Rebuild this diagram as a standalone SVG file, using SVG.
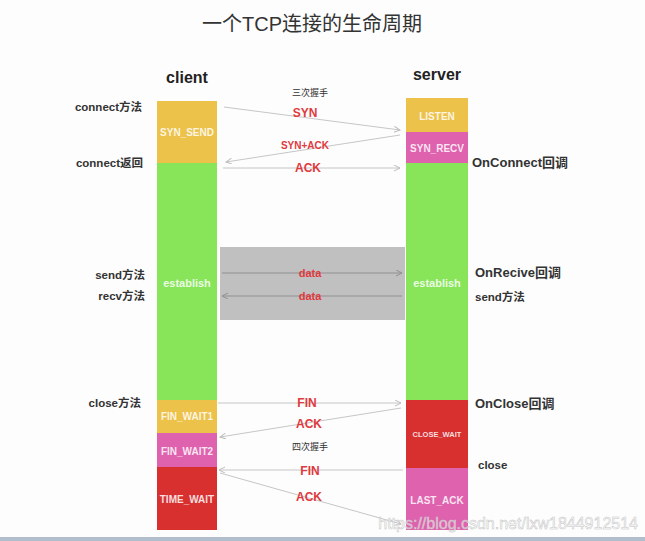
<svg xmlns="http://www.w3.org/2000/svg" width="645" height="541" viewBox="0 0 645 541">
<style>
.title{font-family:"Liberation Sans","Noto Sans CJK SC",sans-serif;font-size:20px;fill:#333;}
.hdr{font-family:"Liberation Sans",sans-serif;font-size:16px;font-weight:bold;fill:#222;}
.side{font-family:"Liberation Sans","Noto Sans CJK SC",sans-serif;font-size:11.5px;font-weight:bold;fill:#333;}
.rside{font-family:"Liberation Sans","Noto Sans CJK SC",sans-serif;font-size:13px;font-weight:bold;fill:#333;}
.st{font-family:"Liberation Sans",sans-serif;font-size:10px;font-weight:bold;fill:#fff;fill-opacity:0.85;text-anchor:middle;}
.est{font-size:11px;}
.lbl{font-family:"Liberation Sans",sans-serif;font-size:12px;font-weight:bold;fill:#e0393e;text-anchor:middle;}
.note{font-family:"Noto Sans CJK SC",sans-serif;font-size:9px;fill:#333;text-anchor:middle;}
.ln{stroke:#c6c6c6;stroke-width:1;fill:none;marker-end:url(#ah);}
.dl{stroke:#909090;stroke-width:1;fill:none;marker-end:url(#ahd);}
.y{fill:#edc24b;}.g{fill:#88e55a;}.p{fill:#df62ae;}.r{fill:#d8302f;}
</style>
<defs>
<marker id="ah" markerWidth="8" markerHeight="8" refX="6" refY="3" orient="auto" markerUnits="userSpaceOnUse">
<path d="M0,0 L6,3 L0,6" fill="none" stroke="#bdbdbd" stroke-width="1"/>
</marker>
<marker id="ahd" markerWidth="8" markerHeight="8" refX="6" refY="3" orient="auto" markerUnits="userSpaceOnUse">
<path d="M0,0 L6,3 L0,6" fill="none" stroke="#909090" stroke-width="1"/>
</marker>
</defs>
<rect x="0" y="0" width="645" height="541" fill="#fdfdfd"/>
<rect x="0" y="537" width="645" height="4" fill="#b2becb"/>
<text class="title" x="312" y="31" text-anchor="middle">一个TCP连接的生命周期</text>
<text class="hdr" x="187" y="83" text-anchor="middle">client</text>
<text class="hdr" x="437" y="80" text-anchor="middle">server</text>

<rect x="220" y="247" width="185" height="73" fill="#c0c0c0"/>

<g id="client">
<g id="syn_send"><rect class="y" x="157" y="101" width="60" height="62"/><text class="st" x="187" y="136">SYN_SEND</text></g>
<g id="c_establish"><rect class="g" x="157" y="163" width="60" height="237"/><text class="st est" x="187" y="287">establish</text></g>
<g id="fin_wait1"><rect class="y" x="157" y="400" width="60" height="33"/><text class="st" x="187" y="420">FIN_WAIT1</text></g>
<g id="fin_wait2"><rect class="p" x="157" y="433" width="60" height="34"/><text class="st" x="187" y="455">FIN_WAIT2</text></g>
<g id="time_wait"><rect class="r" x="157" y="467" width="60" height="63"/><text class="st" x="187" y="503">TIME_WAIT</text></g>
</g>

<g id="server">
<g id="listen"><rect class="y" x="406" y="98" width="62" height="34"/><text class="st" x="437" y="120">LISTEN</text></g>
<g id="syn_recv"><rect class="p" x="406" y="132" width="62" height="31"/><text class="st" x="437" y="152">SYN_RECV</text></g>
<g id="s_establish"><rect class="g" x="406" y="163" width="62" height="237"/><text class="st est" x="437" y="287">establish</text></g>
<g id="close_wait"><rect class="r" x="406" y="400" width="62" height="68"/><text class="st" x="437" y="437" style="font-size:7.5px">CLOSE_WAIT</text></g>
<g id="last_ack"><rect class="p" x="406" y="468" width="62" height="62"/><text class="st" x="437" y="504">LAST_ACK</text></g>
</g>

<g id="side-labels">
<text class="side" x="142" y="111" text-anchor="end">connect方法</text>
<text class="side" x="143" y="167" text-anchor="end">connect返回</text>
<text class="side" x="145" y="279" text-anchor="end">send方法</text>
<text class="side" x="145" y="300" text-anchor="end">recv方法</text>
<text class="side" x="141" y="407" text-anchor="end">close方法</text>
<text class="rside" x="472" y="167">OnConnect回调</text>
<text class="rside" x="475" y="277">OnRecive回调</text>
<text class="side" x="475" y="301">send方法</text>
<text class="rside" x="475" y="408">OnClose回调</text>
<text class="side" x="478" y="469">close</text>
</g>

<g id="connectors">
<line class="ln" x1="224" y1="107" x2="400" y2="130"/>
<line class="ln" x1="400" y1="135" x2="226" y2="162"/>
<line class="ln" x1="223" y1="168" x2="400" y2="168"/>
<line class="dl" x1="222" y1="273" x2="402" y2="273"/>
<line class="dl" x1="402" y1="296" x2="222" y2="296"/>
<line class="ln" x1="218" y1="403" x2="401" y2="403"/>
<line class="ln" x1="401" y1="408" x2="220" y2="437"/>
<line class="ln" x1="403" y1="470" x2="219" y2="470"/>
<line class="ln" x1="220" y1="473" x2="401" y2="524"/>
</g>

<g id="connector-labels">
<text class="note" x="310" y="96">三次握手</text>
<text class="lbl" x="305" y="117">SYN</text>
<text class="lbl" x="305" y="149" style="font-size:10px">SYN+ACK</text>
<text class="lbl" x="308" y="172">ACK</text>
<text class="lbl" x="310" y="277" style="font-size:11px">data</text>
<text class="lbl" x="310" y="300" style="font-size:11px">data</text>
<text class="lbl" x="307" y="407">FIN</text>
<text class="lbl" x="309" y="428">ACK</text>
<text class="note" x="310" y="450">四次握手</text>
<text class="lbl" x="310" y="475">FIN</text>
<text class="lbl" x="309" y="501">ACK</text>
</g>

<text x="638" y="529" text-anchor="end" style="font-family:'Liberation Sans',sans-serif;font-size:16px;fill:#fff;fill-opacity:0.6;stroke:#c4c4c4;stroke-width:0.5">https://blog.csdn.net/lxw1844912514</text>
</svg>
